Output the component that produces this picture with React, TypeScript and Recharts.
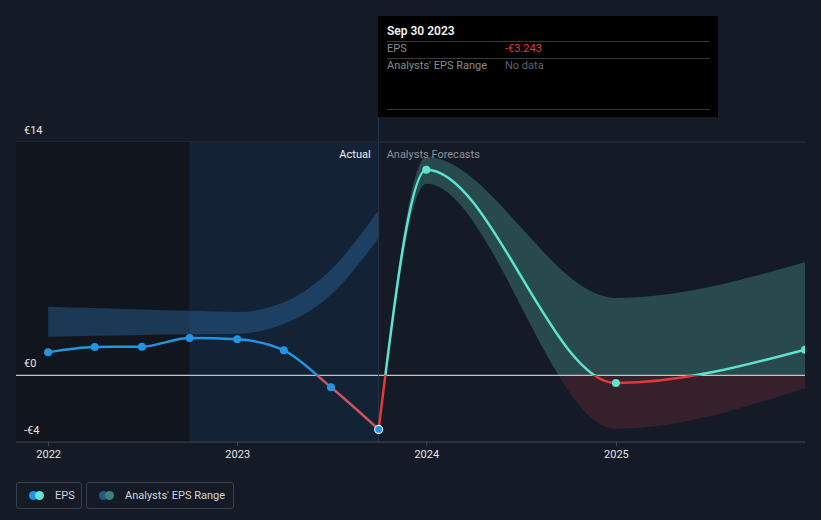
import React from 'react';
import {
  ComposedChart,
  Line,
  Area,
  XAxis,
  YAxis,
  CartesianGrid,
  ReferenceLine,
  ReferenceArea,
} from 'recharts';

// ---------- data ----------
const actualDates = ['2021-12-31', '2022-03-31', '2022-06-30', '2022-09-30', '2022-12-31', '2023-03-31', '2023-06-30', '2023-09-30'];
const actualEps = [1.38, 1.7, 1.72, 2.24, 2.16, 1.5, -0.72, -3.243];
const pastRangeLow = [2.32, 2.37, 2.42, 2.46, 2.5, 3.08, 4.84, 8.24];
const pastRangeHigh = [4.12, 4.04, 3.95, 3.87, 3.8, 4.38, 6.34, 9.9];

const forecastDates = ['2023-09-30', '2023-12-31', '2024-12-31', '2025-12-31'];
const forecastEps = [-3.243, 12.34, -0.46, 1.54];
const forecastLow = [-3.243, 11.5, -3.2, -0.76];
const forecastHigh = [-3.243, 13.1, 4.64, 6.78];

const yearTicks = ['2022-01-01', '2023-01-01', '2024-01-01', '2025-01-01'];
const yTicks = [-4, 0, 5, 10, 14];
const yLabelTicks = [-4, 0, 14];
const domainStart = '2021-10-30';
const domainEnd = '2025-12-31';
const pastYearStart = '2022-09-30';
const lastReported = '2023-09-30';

// ---------- helpers ----------
const ts = (d: string) => Date.parse(d + 'T00:00:00Z');

const actualData = actualDates.map((d, i) => ({ x: ts(d), eps: actualEps[i] }));
const pastBand = actualDates.map((d, i) => ({ x: ts(d), range: [pastRangeLow[i], pastRangeHigh[i]] }));
const forecastData = forecastDates.map((d, i) => ({ x: ts(d), eps: forecastEps[i] }));
const forecastBand = forecastDates.map((d, i) => ({ x: ts(d), range: [forecastLow[i], forecastHigh[i]] }));

const zeroOffset = (vals: number[]) => {
  const max = Math.max(...vals);
  const min = Math.min(...vals);
  return Math.max(0, Math.min(1, max / (max - min)));
};
const actualOff = zeroOffset(actualEps);
const forecastOff = zeroOffset(forecastEps);
const bandOff = zeroOffset([...forecastLow, ...forecastHigh]);

const BG = '#151b26';
const FONT = 'Roboto, "Noto Sans", sans-serif';
const LEFT = 16;

const fmtEuro = (v: number) => (v < 0 ? `-€${Math.abs(v)}` : `€${v}`);

const yLabel = (v: number) => (props: any) => {
  const vb = props.viewBox || {};
  return (
    <text x={vb.x + 8} y={vb.y - 8} fill="#e6e6e6" fontSize={11} fontFamily={FONT} textAnchor="start">
      {fmtEuro(v)}
    </text>
  );
};

const XTick = (props: any) => {
  const { x, y, payload } = props;
  return (
    <text x={x} y={y} dy="0.71em" fill="#e6e6e6" fontSize={11} fontFamily={FONT} textAnchor="middle">
      {new Date(payload.value).getUTCFullYear()}
    </text>
  );
};

const ActualDot = (props: any) => {
  const { cx, cy, index } = props;
  const last = index === actualData.length - 1;
  return (
    <circle
      key={`ad-${index}`}
      cx={cx}
      cy={cy}
      r={4}
      fill="#2394df"
      stroke={last ? '#d6ecff' : 'none'}
      strokeWidth={last ? 1.2 : 0}
    />
  );
};

const ForecastDot = (props: any) => {
  const { cx, cy, index } = props;
  if (index === 0) return <g key={`fd-${index}`} />;
  return <circle key={`fd-${index}`} cx={cx} cy={cy} r={4} fill="#5ee3cf" stroke="none" />;
};

const DividerLabel = (props: any) => {
  const vb = props.viewBox || {};
  const x = vb.x;
  const y = vb.y;
  return (
    <g>
      <text x={x - 8} y={y + 16} fill="#f0f0f0" fontSize={11} fontFamily={FONT} textAnchor="end">
        Actual
      </text>
      <text x={x + 8} y={y + 16} fill="#8c9199" fontSize={11} fontFamily={FONT} textAnchor="start">
        Analysts Forecasts
      </text>
    </g>
  );
};

const legendBox: React.CSSProperties = {
  position: 'absolute',
  top: 482,
  height: 27,
  boxSizing: 'border-box',
  border: '1px solid #3a404b',
  borderRadius: 3,
  display: 'flex',
  alignItems: 'center',
  fontSize: 11,
  color: '#d0d3d8',
  fontFamily: FONT,
};

const Dots = ({ a, b }: { a: string; b: string }) => (
  <span style={{ position: 'relative', width: 18, height: 9, display: 'inline-block', marginLeft: 12, marginRight: 8 }}>
    <span style={{ position: 'absolute', left: 0, top: 0, width: 9, height: 9, borderRadius: '50%', background: a }} />
    <span style={{ position: 'absolute', left: 6, top: 0, width: 9, height: 9, borderRadius: '50%', background: b }} />
  </span>
);

export default function App() {
  const sepLine: React.CSSProperties = { position: 'absolute', left: 9, right: 8, height: 1, background: '#3a3a3a' };
  return (
    <div style={{ position: 'absolute', left: 0, top: 0, width: 821, height: 520, background: BG, overflow: 'hidden', fontFamily: FONT }}>
      <ComposedChart width={821} height={520} margin={{ top: 142, right: 16, left: LEFT, bottom: 48 }}>
        <defs>
          <linearGradient id="actualStroke" x1="0" y1="0" x2="0" y2="1">
            <stop offset={0} stopColor="#2394df" />
            <stop offset={actualOff} stopColor="#2394df" />
            <stop offset={actualOff} stopColor="#c9545c" />
            <stop offset={1} stopColor="#c9545c" />
          </linearGradient>
          <linearGradient id="forecastStroke" x1="0" y1="0" x2="0" y2="1">
            <stop offset={0} stopColor="#5ee3cf" />
            <stop offset={forecastOff} stopColor="#5ee3cf" />
            <stop offset={forecastOff} stopColor="#e5383b" />
            <stop offset={1} stopColor="#e5383b" />
          </linearGradient>
          <linearGradient id="forecastFill" x1="0" y1="0" x2="0" y2="1">
            <stop offset={0} stopColor="#4a9e94" stopOpacity={0.36} />
            <stop offset={bandOff} stopColor="#4a9e94" stopOpacity={0.36} />
            <stop offset={bandOff} stopColor="#a83240" stopOpacity={0.22} />
            <stop offset={1} stopColor="#a83240" stopOpacity={0.22} />
          </linearGradient>
        </defs>

        <XAxis
          dataKey="x"
          type="number"
          scale="time"
          domain={[ts(domainStart), ts(domainEnd)]}
          ticks={yearTicks.map(ts)}
          interval={0}
          allowDataOverflow
          height={30}
          tickSize={4}
          tickMargin={4}
          tick={<XTick />}
          axisLine={{ stroke: '#3a404b' }}
          tickLine={{ stroke: '#4a505b' }}
        />
        <YAxis
          type="number"
          domain={[-4, 14]}
          ticks={yTicks}
          interval={0}
          allowDataOverflow
          width={0}
          axisLine={false}
          tickLine={false}
          tick={false}
        />

        <ReferenceArea x1={ts(domainStart)} x2={ts(pastYearStart)} y1={-4} y2={14} fill="#11151d" fillOpacity={1} stroke="none" />
        <ReferenceArea x1={ts(pastYearStart)} x2={ts(lastReported)} y1={-4} y2={14} fill="#132235" fillOpacity={1} stroke="none" />

        <CartesianGrid vertical={false} stroke="#2c323d" strokeWidth={1} />

        <Area
          data={pastBand}
          dataKey="range"
          type="monotone"
          stroke="none"
          fill="#2a6aa3"
          fillOpacity={0.42}
          isAnimationActive={false}
          activeDot={false}
          dot={false}
        />
        <Area
          data={forecastBand}
          dataKey="range"
          type="monotone"
          stroke="none"
          fill="url(#forecastFill)"
          fillOpacity={1}
          isAnimationActive={false}
          activeDot={false}
          dot={false}
        />

        <ReferenceLine y={0} stroke="#bfc2c7" strokeWidth={1.3} />
        {yLabelTicks.map((v) => (
          <ReferenceLine key={`yl-${v}`} y={v} stroke="none" label={yLabel(v)} />
        ))}
        <ReferenceLine
          segment={[
            { x: ts(lastReported), y: -4 },
            { x: ts(lastReported), y: 15.5 },
          ]}
          ifOverflow="visible"
          stroke="#24364d"
          strokeWidth={1}
        />
        <ReferenceLine x={ts(lastReported)} stroke="none" label={DividerLabel} />

        <Line
          data={forecastData}
          dataKey="eps"
          type="monotone"
          stroke="url(#forecastStroke)"
          strokeWidth={2.5}
          dot={ForecastDot}
          activeDot={false}
          isAnimationActive={false}
        />
        <Line
          data={actualData}
          dataKey="eps"
          type="monotone"
          stroke="url(#actualStroke)"
          strokeWidth={2.5}
          dot={ActualDot}
          activeDot={false}
          isAnimationActive={false}
        />
      </ComposedChart>

      {/* tooltip panel */}
      <div style={{ position: 'absolute', left: 378, top: 16, width: 340, height: 101, background: '#000', color: '#fff' }}>
        <div style={{ position: 'absolute', left: 9, top: 8, fontSize: 12, fontWeight: 600, color: '#f2f2f2' }}>Sep 30 2023</div>
        <div style={{ ...sepLine, top: 25 }} />
        <div style={{ position: 'absolute', left: 9, top: 26, fontSize: 11, color: '#8a8d92' }}>EPS</div>
        <div style={{ position: 'absolute', left: 127, top: 26, fontSize: 11, color: '#e8383d' }}>-€3.243</div>
        <div style={{ ...sepLine, top: 42 }} />
        <div style={{ position: 'absolute', left: 9, top: 43, fontSize: 11, color: '#8a8d92' }}>Analysts' EPS Range</div>
        <div style={{ position: 'absolute', left: 127, top: 43, fontSize: 11, color: '#5f6268' }}>No data</div>
        <div style={{ ...sepLine, top: 93 }} />
      </div>

      {/* legend */}
      <div style={{ ...legendBox, left: 16, width: 66 }}>
        <Dots a="#2394df" b="#5ee3cf" />
        <span>EPS</span>
      </div>
      <div style={{ ...legendBox, left: 86, width: 148 }}>
        <Dots a="#1f5a8a" b="#3d7f7a" />
        <span>Analysts' EPS Range</span>
      </div>
    </div>
  );
}
